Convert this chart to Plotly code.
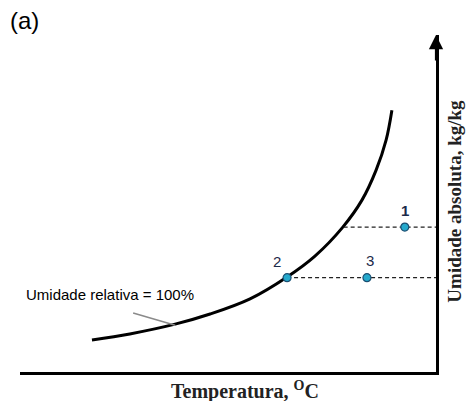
import plotly.graph_objects as go

# Saturation curve (relative humidity = 100%), schematic units
curve_T = [17.3, 26.4, 37.3, 45.7, 55.3, 64.2, 70.9, 77.6, 82.2, 85.6, 88.0, 89.4]
curve_H = [9.5, 11.3, 14.2, 17.2, 21.7, 28.2, 34.4, 43.0, 51.0, 59.9, 68.8, 77.7]

# State points
point_labels = ["1", "2", "3"]
point_T = [92.5, 64.2, 83.4]
point_H = [43.0, 28.0, 28.0]

# Dashed guide lines (start temperature, humidity level), running to the right axis
guide_T0 = [77.8, 64.2]
guide_H = [43.0, 28.0]

X_MAX = 100
Y_MAX = 100

fig = go.Figure()

fig.add_trace(go.Scatter(x=curve_T, y=curve_H, mode="lines",
                         line=dict(color="black", width=3, shape="spline", smoothing=1.0),
                         hoverinfo="skip", showlegend=False))

for t0, h in zip(guide_T0, guide_H):
    fig.add_trace(go.Scatter(x=[t0, X_MAX], y=[h, h], mode="lines",
                             line=dict(color="#222", width=1.3, dash="4px,3px"),
                             hoverinfo="skip", showlegend=False))

fig.add_trace(go.Scatter(x=point_T, y=point_H, mode="markers",
                         marker=dict(color="#25a9cc", size=8,
                                     line=dict(color="#1b4f72", width=1.2)),
                         hoverinfo="skip", showlegend=False))

label_yshift = [17, 16, 17]
label_xshift = [0, -10, 3]
label_bold = [True, False, False]
for lab, t, h, ys, xs, b in zip(point_labels, point_T, point_H, label_yshift, label_xshift, label_bold):
    fig.add_annotation(x=t, y=h, text=f"<b>{lab}</b>" if b else lab, showarrow=False,
                       xshift=xs, yshift=ys,
                       font=dict(family="Liberation Sans, Arial", size=15, color="#1c2a4a"))

# Leader line for curve label
fig.add_shape(type="line", x0=27.2, y0=17.5, x1=37.3, y1=13.9,
              line=dict(color="#8a8a8a", width=1.5))
fig.add_annotation(x=21.6, y=23.1, text="Umidade relativa = 100%", showarrow=False,
                   font=dict(family="Liberation Sans, Arial", size=15, color="black"))

# Arrowhead on vertical axis
fig.add_annotation(x=X_MAX, y=Y_MAX, ax=X_MAX, ay=Y_MAX - 8, xref="x", yref="y",
                   axref="x", ayref="y", text="", showarrow=True,
                   arrowhead=2, arrowsize=1.3, arrowwidth=2.2, arrowcolor="black", standoff=0)

# Axis titles
fig.add_annotation(x=54, y=0, xref="x", yref="paper", yanchor="top", yshift=-4,
                   text="<b>Temperatura, <sup>O</sup>C</b>", showarrow=False,
                   font=dict(family="Liberation Serif, Times New Roman", size=20, color="#222"))
fig.add_annotation(x=1, y=50.7, xref="paper", yref="y", xanchor="left", xshift=6,
                   text="<b>Umidade absoluta, kg/kg</b>", textangle=-90, showarrow=False,
                   font=dict(family="Liberation Serif, Times New Roman", size=19, color="#222"))

fig.add_annotation(x=-0.029, y=1, xref="paper", yref="paper", xanchor="left", yanchor="bottom",
                   yshift=-1, text="(a)", showarrow=False,
                   font=dict(family="Liberation Sans, Arial", size=24, color="black"))

fig.update_xaxes(range=[0, X_MAX], showgrid=False, zeroline=False, showticklabels=False,
                 ticks="", showline=True, linecolor="black", linewidth=2.5)
fig.update_yaxes(range=[0, Y_MAX], showgrid=False, zeroline=False, showticklabels=False,
                 ticks="", side="right", showline=True, linecolor="black", linewidth=2.5)

fig.update_layout(width=467, height=401, margin=dict(l=20, r=31, t=35, b=29),
                  plot_bgcolor="white", paper_bgcolor="white")

fig.write_html("out.html", config={"displayModeBar": False},
               post_script="document.body.style.margin='0px';")
